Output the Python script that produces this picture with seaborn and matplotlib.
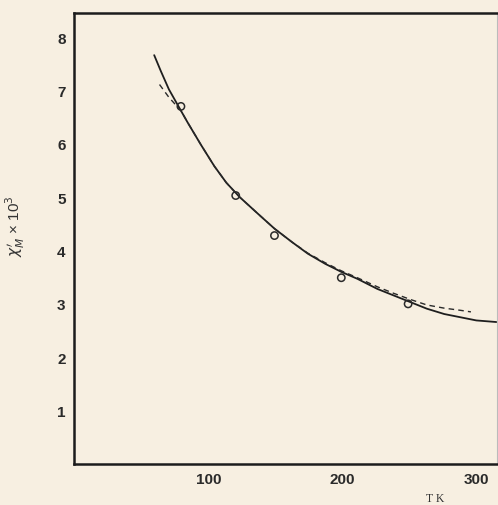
import matplotlib
matplotlib.use("Agg")
import matplotlib.pyplot as plt
import seaborn as sns

# Data
point_T = [79, 120, 149, 199, 249]
point_chi = [6.70, 5.03, 4.28, 3.49, 3.00]

solid_T = [59, 64, 70, 79, 84, 94, 104, 113, 123, 137, 149, 162, 174,
           187, 199, 211, 226, 238, 251, 263, 276, 288, 300, 315]
solid_chi = [7.66, 7.36, 7.02, 6.62, 6.40, 5.98, 5.58, 5.27, 5.00, 4.68,
             4.41, 4.16, 3.94, 3.75, 3.60, 3.47, 3.28, 3.16, 3.03, 2.91,
             2.81, 2.75, 2.69, 2.66]

dashed_T = [63, 70, 79, 84, 94, 104, 113, 123, 137, 149, 162, 174, 187,
            199, 211, 226, 238, 251, 263, 276, 288, 296]
dashed_chi = [7.11, 6.87, 6.62, 6.40, 5.98, 5.58, 5.27, 5.00, 4.68, 4.41,
              4.16, 3.95, 3.77, 3.62, 3.49, 3.32, 3.20, 3.08, 2.98, 2.92,
              2.88, 2.85]

x_ticks = [100, 200, 300]
y_ticks = [1, 2, 3, 4, 5, 6, 7, 8]

sns.set_style("white")
plt.rcParams['font.family'] = ['Liberation Sans', 'DejaVu Sans']

bg = '#f7efe1'
fig = plt.figure(figsize=(4.98, 5.06), dpi=100, facecolor=bg)
ax = fig.add_axes([74/498, 41/506, 423/498, 451/506])
ax.set_facecolor(bg)

sns.lineplot(x=solid_T, y=solid_chi, ax=ax, color='#1e1e1e', lw=1.3,
             sort=False, estimator=None)
sns.lineplot(x=dashed_T, y=dashed_chi, ax=ax, color='#2a2a2a', lw=1.0,
             sort=False, estimator=None, linestyle=(0, (4, 3)))
sns.scatterplot(x=point_T, y=point_chi, ax=ax, marker='o', s=28,
                facecolor='none', edgecolor='#2a2a2a', linewidth=1.1, zorder=5)

ax.set_xlim(-1, 315.5)
ax.set_ylim(0, 8.45)
ax.set_xticks(x_ticks)
ax.set_yticks(y_ticks)
ax.set_xticklabels([str(t) for t in x_ticks], fontsize=11, fontweight='bold', color='#2a2a2a')
ax.set_yticklabels([str(t) for t in y_ticks], fontsize=11, fontweight='bold', color='#2a2a2a')
ax.tick_params(axis='x', direction='in', length=4, width=1, pad=6, color='#333333')
ax.tick_params(axis='y', direction='out', length=4, width=1, pad=2, color='#333333')

for s in ['left', 'bottom', 'top']:
    ax.spines[s].set_color('#1c1c1c')
    ax.spines[s].set_linewidth(1.8)
ax.spines['right'].set_color('#bbbbbb')
ax.spines['right'].set_linewidth(0.8)

ax.set_ylabel(r"$\chi_M^{\prime}$ × 10$^3$", fontsize=11, color='#333333')
ax.yaxis.set_label_coords(-0.111, 0.53)
ax.set_xlabel("T K", fontsize=8.5, family='Liberation Serif', color='#333333')
ax.xaxis.set_label_coords(0.853, -0.063)

fig.savefig("out.png", dpi=100, facecolor=bg)
